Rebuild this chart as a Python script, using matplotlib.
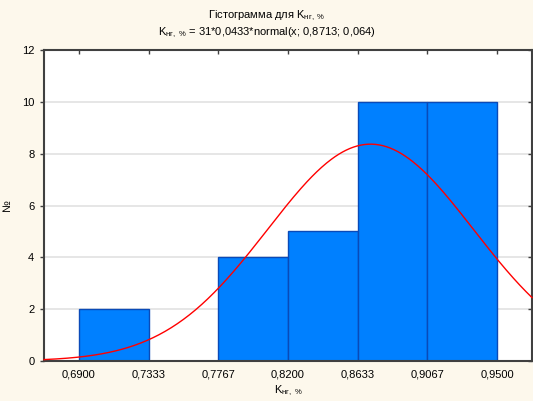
import numpy as np
import matplotlib
matplotlib.use("Agg")
import matplotlib.pyplot as plt

plt.rcParams['font.family'] = ['Liberation Sans', 'DejaVu Sans']
plt.rcParams['mathtext.fontset'] = 'custom'
plt.rcParams['mathtext.rm'] = 'Liberation Sans'
plt.rcParams['mathtext.it'] = 'Liberation Sans'

# histogram data
bin_edges = [0.6900, 0.7333, 0.7767, 0.8200, 0.8633, 0.9067, 0.9500]
counts = [2, 0, 4, 5, 10, 10]
tick_labels = ['0,6900', '0,7333', '0,7767', '0,8200', '0,8633', '0,9067', '0,9500']
y_ticks = [0, 2, 4, 6, 8, 10, 12]

# fitted normal from the subtitle: 31*0,0433*normal(x; 0,8713; 0,064)
n_obs = 31
bin_w = 0.0433
mu = 0.8713
sigma = 0.064

bg = '#fdf8ec'
spine_col = '#404040'

fig = plt.figure(figsize=(5.33, 4.01), dpi=100, facecolor=bg)
ax = fig.add_axes([44/533, 1 - 361/401, 488/533, 311/401])
ax.set_facecolor('white')

xlo = bin_edges[0] - bin_w / 2
xhi = bin_edges[-1] + bin_w / 2

ax.set_axisbelow(True)
ax.yaxis.grid(True, color='#e2e2e2', lw=1.2)

edges = np.array(bin_edges)
ax.bar(edges[:-1], counts, width=np.diff(edges), align='edge',
       color='#0080ff', edgecolor='#0a4ab8', linewidth=1.0, zorder=2)

xs = np.linspace(xlo, xhi, 400)
ys = n_obs * bin_w * np.exp(-0.5 * ((xs - mu) / sigma) ** 2) / (sigma * np.sqrt(2 * np.pi))
ax.plot(xs, ys, color='#ff0000', lw=1.0, zorder=3, clip_on=False)

ax.set_xlim(xlo, xhi)
ax.set_ylim(0, 12)
ax.set_xticks(bin_edges)
ax.set_xticklabels(tick_labels)
ax.set_yticks(y_ticks)

for s in ax.spines.values():
    s.set_color(spine_col)
    s.set_linewidth(1.5)

ax.tick_params(axis='both', labelsize=8, colors=spine_col, labelcolor='black',
               length=3, width=1)
ax.tick_params(axis='x', top=True, bottom=False, direction='in', pad=6)
ax.tick_params(axis='y', right=True, direction='out', pad=4)
for t in ax.yaxis.get_major_ticks():
    t.tick2line.set_marker(matplotlib.lines.TICKLEFT)
    t.tick2line.set_markersize(3)

ax.set_xlabel(r'K$_{\mathrm{нг,\ \%}}$', fontsize=8)
ax.set_ylabel('№', fontsize=8)
ax.xaxis.set_label_coords(0.5, -0.073)
ax.yaxis.set_label_coords(-0.066, 0.5)

fig.text(0.5, 1 - 16/401, r'Гістограмма для K$_{\mathrm{нг,\ \%}}$',
         ha='center', va='center', fontsize=8)
fig.text(0.5, 1 - 33/401, r'K$_{\mathrm{нг,\ \%}}$ = 31*0,0433*normal(x; 0,8713; 0,064)',
         ha='center', va='center', fontsize=8)

fig.savefig('out.png', dpi=100, facecolor=bg)
